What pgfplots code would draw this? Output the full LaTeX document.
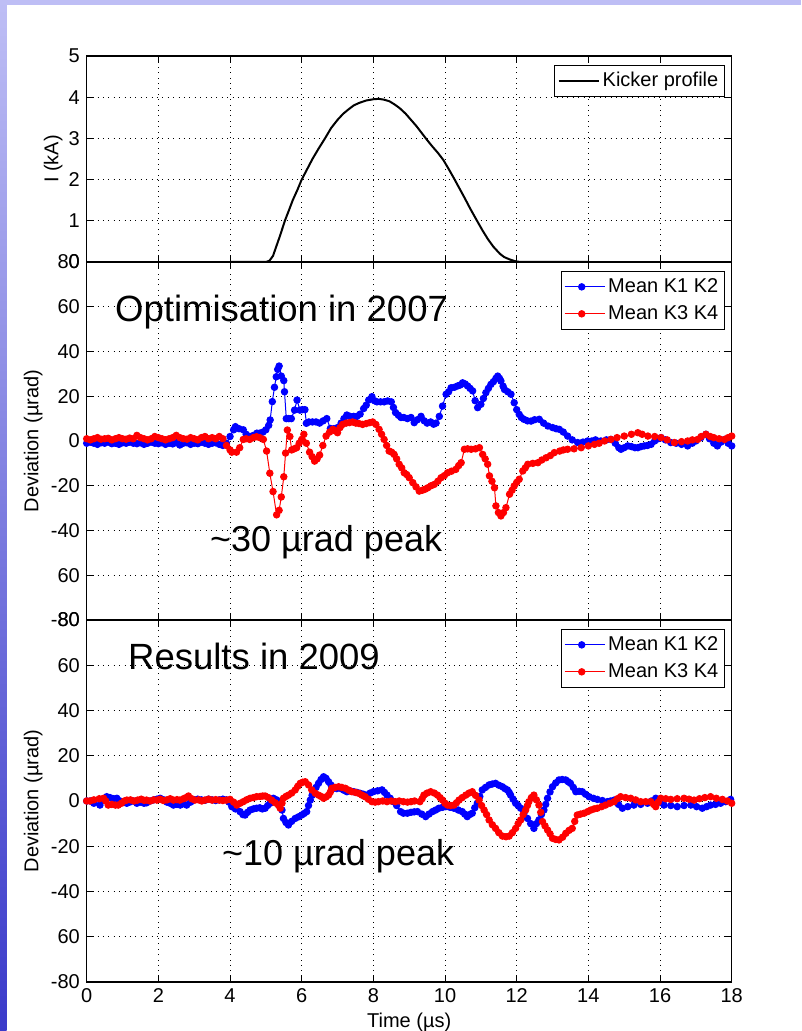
\documentclass[border=0pt]{standalone}
\usepackage{pgfplots}
\pgfplotsset{compat=1.18}
\usepackage{fontspec}
\setmainfont{Liberation Sans}
\definecolor{lav}{RGB}{190,190,245}
\definecolor{deepb}{RGB}{58,58,202}
\begin{document}
\fontsize{20}{23}\selectfont
\begin{tikzpicture}[x=1pt,y=1pt]
\useasboundingbox (0,0) rectangle (801,1031);
\fill[white] (0,0) rectangle (801,1031);
\shade[top color=lav, bottom color=deepb] (0,0) rectangle (6.5,1031);
\fill[lav] (0,1025.5) rectangle (801,1031);
\pgfplotsset{
  mystyle/.style={
    scale only axis, width=645pt, xmin=0, xmax=18,
    xtick={0,2,...,18},
    grid=major,
    major grid style={black, line width=0.7pt, dash pattern=on 0.8pt off 4.6pt},
    axis line style={black, line width=1.2pt},
    tick style={black, line width=1pt},
    major tick length=7pt,
    tick align=inside,
    /pgf/number format/assume math mode=true,
    font=\fontsize{20}{23}\selectfont,
    ticklabel style={font=\fontsize{20}{23}\selectfont},
    legend style={draw=black, line width=0.8pt, fill=white, at={(1,1)}, anchor=north east,
      xshift=-7pt, yshift=-9pt, font=\fontsize{20}{23}\selectfont, row sep=4pt,
      inner xsep=3pt, inner ysep=4pt, nodes={inner sep=3pt}},
    legend cell align=left,
    legend image code/.code={\draw[mark repeat=2, mark phase=2, #1] plot coordinates {(0pt,0pt) (17pt,0pt) (40pt,0pt)};},
  },
  bl/.style={blue, line width=1pt, mark=*, mark size=3.2pt},
  rd/.style={red, line width=1pt, mark=*, mark size=3.2pt},
}
% ---------------- top axis
\begin{axis}[mystyle, at={(86.7pt,769pt)}, anchor=south west, height=206pt,
  ymin=0, ymax=5, ytick={0,1,...,5}, xticklabels={},
  ylabel={I (kA)}, ylabel style={at={(axis description cs:-0.052,0.5)}, anchor=center}]
\addplot[black, line width=2pt] coordinates {
(4,0)(5,0)(5.1,0.03)(5.2,0.15)(5.3,0.4)(5.4,0.65)(5.53,1.0)(5.65,1.27)(5.75,1.5)(5.88,1.75)(6.0,2.0)(6.15,2.25)(6.3,2.5)(6.47,2.75)(6.65,3.0)(6.82,3.25)(7.0,3.45)(7.16,3.6)(7.3,3.7)(7.45,3.8)(7.6,3.86)(7.8,3.92)(8.0,3.95)(8.15,3.96)(8.3,3.94)(8.45,3.9)(8.6,3.82)(8.74,3.73)(8.9,3.6)(9.05,3.45)(9.2,3.3)(9.35,3.13)(9.5,2.96)(9.65,2.8)(9.8,2.65)(9.95,2.48)(10.1,2.26)(10.25,2.03)(10.4,1.79)(10.55,1.55)(10.7,1.3)(10.88,1.02)(11.05,0.76)(11.2,0.55)(11.35,0.37)(11.53,0.2)(11.65,0.12)(11.81,0.06)(11.95,0.02)(12.1,0)(14,0)};
\legend{Kicker profile}
\end{axis}
% ---------------- middle axis
\begin{axis}[mystyle, at={(86.7pt,411pt)}, anchor=south west, height=358pt,
  ymin=-80, ymax=80, ytick={-80,-60,...,80}, yticklabels={-80,60,-40,-20,0,20,40,60,80},
  xticklabels={},
  ylabel={Deviation (µrad)}, ylabel style={at={(axis description cs:-0.083,0.5)}, anchor=center}]
\addplot[bl] coordinates {
(0,-1)(0.1,-0.5)(0.2,-1)(0.3,-1.5)(0.4,-0.8)(0.5,-1)(0.6,-0.5)(0.7,-1.2)(0.8,-1)(0.9,-1.5)(1.0,-0.8)(1.1,-1)(1.2,-0.5)(1.3,-1)(1.4,-1.2)(1.5,-0.8)(1.6,-1.5)(1.7,-1)(1.8,-0.5)(1.9,-1)(2.0,-1.2)(2.1,-0.8)(2.2,-1.5)(2.3,-1)(2.4,-1.3)(2.5,-0.8)(2.6,-1.8)(2.7,-1)(2.8,-0.8)(2.9,-1.5)(3.0,-1)(3.1,-1.2)(3.2,-0.5)(3.3,-1)(3.4,-1.5)(3.5,-1)(3.6,-0.8)(3.7,-1.5)(3.8,-2)(3.9,-1)(4.0,2)(4.1,5)(4.15,6.4)(4.25,5.5)(4.37,5)(4.45,3)(4.55,2)(4.65,2.5)(4.75,3.5)(4.83,3.5)(4.92,4)(5.0,5)(5.08,7)(5.12,9.4)(5.18,17.6)(5.24,24)(5.29,28.7)(5.33,32)(5.37,33.5)(5.43,29)(5.5,27)(5.52,22)(5.57,10)(5.64,10)(5.71,10)(5.8,13.8)(5.87,18.3)(5.95,13.8)(6.02,14)(6.09,14)(6.13,7.9)(6.2,8.5)(6.3,8.5)(6.4,8.5)(6.5,8)(6.6,9)(6.7,10)(6.8,5.6)(6.9,5.5)(7.0,6)(7.1,8)(7.18,10)(7.26,11.6)(7.35,11)(7.45,11)(7.54,11)(7.63,12)(7.73,14.5)(7.8,16)(7.87,18.3)(7.96,19.8)(8.03,18)(8.1,17.5)(8.2,17.5)(8.3,17.5)(8.4,17.9)(8.5,17.5)(8.56,15)(8.62,12.7)(8.7,11.5)(8.77,10.5)(8.85,10.5)(8.95,10)(9.05,10.5)(9.14,8.2)(9.23,9.5)(9.33,11)(9.42,9)(9.5,8)(9.6,8.5)(9.68,7.5)(9.75,8)(9.84,11)(9.93,15.6)(10.03,20.9)(10.1,22)(10.17,23.8)(10.26,24)(10.35,24.6)(10.42,25)(10.49,26)(10.56,25.5)(10.63,24.6)(10.7,23.5)(10.77,22.4)(10.84,18)(10.91,14.9)(11.0,16.4)(11.07,19)(11.14,21.6)(11.21,23.5)(11.28,25.3)(11.35,26.5)(11.42,28)(11.47,29)(11.52,28)(11.56,26.8)(11.62,24.5)(11.66,23)(11.75,22)(11.84,20.9)(11.93,17.1)(12.0,14)(12.07,11.9)(12.13,10.5)(12.2,9.7)(12.3,9)(12.4,8.9)(12.5,9.5)(12.63,9.7)(12.75,8)(12.87,6.7)(13.0,6)(13.1,5.5)(13.19,5.2)(13.3,4)(13.42,2.2)(13.55,0.5)(13.7,-0.7)(13.85,-0.5)(13.98,0)(14.1,0)(14.2,0.5)(14.35,0)(14.5,0.5)(14.63,0.7)(14.75,-1)(14.85,-3)(14.91,-3.7)(15.0,-3)(15.1,-2.2)(15.2,-2.5)(15.3,-3)(15.38,-3)(15.47,-2.5)(15.56,-2.2)(15.65,-2)(15.75,-1.5)(15.85,0)(15.95,1)(16.03,1.5)(16.15,0.5)(16.3,-0.7)(16.45,-1)(16.6,-1.5)(16.77,-2.2)(16.9,-1)(17.0,0)(17.14,1.5)(17.28,3)(17.38,1)(17.5,-1)(17.6,-2.2)(17.7,-0.5)(17.8,0.7)(17.9,-1)(18.0,-2.2)};
\addplot[rd] coordinates {
(0,1)(0.1,0.5)(0.2,1)(0.3,1.5)(0.4,0.8)(0.5,1)(0.6,1.2)(0.7,0.5)(0.8,1)(0.9,1.5)(1.0,1)(1.1,0.8)(1.2,1.3)(1.3,1)(1.4,2.5)(1.5,1.5)(1.6,1)(1.7,0.5)(1.8,1)(1.9,2)(2.0,1.5)(2.1,1)(2.2,0.5)(2.3,1)(2.4,1.5)(2.5,2.5)(2.6,1.5)(2.7,1)(2.8,0.8)(2.9,1.5)(3.0,1)(3.1,0.5)(3.2,1.5)(3.3,2)(3.4,1)(3.5,1.5)(3.6,1)(3.7,2)(3.8,1)(3.9,-2)(4.0,-4)(4.05,-5)(4.18,-5)(4.27,-3)(4.37,0.7)(4.45,1)(4.55,0.7)(4.65,1.5)(4.74,1.9)(4.83,1.5)(4.93,0.7)(5.02,-4.5)(5.11,-14.4)(5.2,-22.6)(5.3,-33)(5.37,-31)(5.43,-25)(5.5,-16)(5.55,-5.4)(5.6,4.9)(5.67,2)(5.72,-4)(5.79,-3.5)(5.86,-3)(5.93,-1)(6.0,0.7)(6.06,3)(6.13,-1)(6.22,-5)(6.29,-7)(6.36,-9)(6.43,-8)(6.5,-6.3)(6.59,-2)(6.68,2.2)(6.78,4)(6.87,5.2)(6.94,4.5)(7.0,3.7)(7.07,6)(7.14,7.4)(7.24,8)(7.33,8.2)(7.42,8.5)(7.51,8)(7.6,7.8)(7.7,7.4)(7.8,7.8)(7.9,8.2)(7.98,8.5)(8.07,7.4)(8.16,5.2)(8.23,3)(8.3,0.7)(8.37,-2)(8.44,-4.5)(8.51,-5)(8.58,-6)(8.65,-8)(8.72,-10.4)(8.79,-12)(8.86,-14.2)(8.93,-15)(9.0,-16.4)(9.1,-18.6)(9.19,-20.5)(9.28,-22.4)(9.37,-22)(9.45,-21.5)(9.52,-20.9)(9.61,-20)(9.7,-19.4)(9.8,-18)(9.89,-16.4)(9.98,-15.5)(10.07,-14.2)(10.18,-13.5)(10.3,-12.7)(10.38,-11)(10.45,-9.7)(10.54,-3.7)(10.63,-3.5)(10.73,-3.7)(10.85,-3.5)(10.96,-3)(11.05,-6)(11.12,-8)(11.19,-10.4)(11.24,-15.6)(11.31,-18)(11.38,-20.9)(11.42,-29)(11.49,-32)(11.56,-33.5)(11.63,-32)(11.7,-29.8)(11.8,-23.8)(11.87,-22)(11.93,-20.1)(12.0,-18.5)(12.07,-17.1)(12.17,-13.4)(12.24,-12)(12.31,-10.4)(12.45,-10)(12.59,-9.7)(12.7,-8.5)(12.82,-7.5)(12.94,-6.5)(13.05,-5.2)(13.2,-4.5)(13.3,-4)(13.42,-3.7)(13.6,-3.5)(13.8,-3)(14.0,-2.2)(14.17,-1.5)(14.3,-1)(14.45,0)(14.63,0.7)(14.8,1.5)(15.0,2.2)(15.2,3)(15.38,3.7)(15.5,3)(15.66,2.2)(15.85,2)(16.03,1.5)(16.2,0.5)(16.4,-0.7)(16.6,-0.3)(16.77,0)(16.9,0.5)(17.05,0.7)(17.15,2)(17.28,3)(17.4,2)(17.5,1.5)(17.65,1)(17.8,0.7)(17.9,1.5)(18.0,2.2)};
\legend{Mean K1 K2, Mean K3 K4}
\end{axis}
% ---------------- bottom axis
\begin{axis}[mystyle, at={(86.7pt,49pt)}, anchor=south west, height=362pt,
  ymin=-80, ymax=80, ytick={-80,-60,...,80}, yticklabels={-80,60,-40,-20,0,20,40,60,80},
  xlabel={Time (µs)}, xlabel style={at={(axis description cs:0.5,0)}, anchor=north, yshift=-24pt},
  ylabel={Deviation (µrad)}, ylabel style={at={(axis description cs:-0.083,0.5)}, anchor=center}]
\addplot[bl] coordinates {
(0,0)(0.1,0)(0.2,-1)(0.37,-1.8)(0.47,0.5)(0.56,1.9)(0.65,1.5)(0.75,1)(0.84,1.2)(0.93,0)(1.02,-0.5)(1.12,-1)(1.2,-0.5)(1.3,0)(1.4,-1)(1.5,-0.5)(1.6,-1)(1.67,-0.8)(1.77,0)(1.87,0.5)(1.96,0.8)(2.05,1.2)(2.15,0.5)(2.24,-0.5)(2.33,-1)(2.42,-1.8)(2.52,-1.5)(2.61,-1.8)(2.7,-1.2)(2.79,-1.8)(2.9,-0.5)(3.0,0.5)(3.1,0.8)(3.2,0.5)(3.3,0.3)(3.4,0.8)(3.5,0.5)(3.6,0.2)(3.7,0.5)(3.8,0.8)(3.9,0.5)(3.97,-0.5)(4.05,-2.5)(4.15,-3.5)(4.28,-4.7)(4.36,-6)(4.42,-6.2)(4.49,-5)(4.56,-4)(4.65,-3.5)(4.74,-3.2)(4.83,-3)(4.9,-3.5)(4.98,-3.2)(5.05,-2)(5.12,-1)(5.21,1.2)(5.3,0.5)(5.4,-0.3)(5.45,-4)(5.49,-7.7)(5.56,-9.5)(5.63,-10.6)(5.72,-9)(5.82,-7.7)(5.91,-7)(6.0,-6.2)(6.07,-5.5)(6.14,-4.7)(6.19,-2)(6.24,0.4)(6.29,2.5)(6.33,4)(6.4,6)(6.47,7.8)(6.54,9.5)(6.61,10.7)(6.68,10)(6.75,8.5)(6.82,7)(6.89,5.6)(6.98,5.5)(7.08,5.6)(7.17,4.8)(7.26,4.1)(7.35,4.5)(7.45,4.1)(7.54,3.8)(7.63,3.4)(7.72,3)(7.82,2.6)(7.91,3.5)(8.0,4.1)(8.12,4.5)(8.24,4.9)(8.31,3.8)(8.38,2.6)(8.47,1.2)(8.56,-0.3)(8.65,-2)(8.76,-4.7)(8.84,-5.4)(8.95,-5.4)(9.05,-5)(9.14,-4.8)(9.23,-4.7)(9.35,-5.8)(9.46,-6.9)(9.55,-5.8)(9.65,-4.7)(9.74,-4)(9.83,-3.2)(9.93,-2.8)(10.02,-2.5)(10.14,-2.8)(10.25,-3.2)(10.37,-4)(10.48,-4.7)(10.55,-5.8)(10.62,-6.9)(10.69,-6)(10.76,-5.4)(10.83,-3)(10.9,-1)(10.97,2)(11.04,4.9)(11.13,6)(11.23,7.1)(11.32,7.5)(11.41,7.8)(11.5,7)(11.6,6.3)(11.67,5.5)(11.74,4.9)(11.79,3.8)(11.83,2.6)(11.9,0.8)(11.97,-1)(12.04,-2)(12.11,-3.2)(12.2,-5.5)(12.3,-7.7)(12.39,-10)(12.48,-12.1)(12.55,-10)(12.62,-8.4)(12.69,-6)(12.76,-4)(12.81,-1.5)(12.86,1.2)(12.93,4)(13.0,6.3)(13.09,8)(13.18,9.3)(13.27,9.5)(13.37,9.3)(13.44,8.5)(13.5,7.8)(13.58,6)(13.65,4.1)(13.74,4.3)(13.83,4.1)(13.92,3)(14.02,1.9)(14.14,1.2)(14.25,0.7)(14.39,0.2)(14.53,-0.3)(14.62,0)(14.72,0.4)(14.84,-1.5)(14.95,-3.2)(15.1,-2.5)(15.27,-1.8)(15.46,-1.5)(15.65,-1)(15.76,0)(15.88,1.2)(16.0,-0.5)(16.11,-1.8)(16.3,-2)(16.48,-2.5)(16.67,-2)(16.86,-1.8)(17.02,-2.5)(17.18,-3.2)(17.3,-2.5)(17.41,-1.8)(17.55,-1.5)(17.69,-1)(17.83,-0.3)(17.97,0.7)};
\addplot[rd] coordinates {
(0,0)(0.09,0)(0.2,0.5)(0.35,1)(0.47,1.2)(0.53,0)(0.6,-1.8)(0.7,-1.5)(0.8,-1.8)(0.88,-1.8)(0.97,-1)(1.05,0)(1.12,0.4)(1.22,0.5)(1.32,0)(1.42,0.4)(1.52,0.8)(1.6,0.3)(1.67,0.4)(1.77,0)(1.87,0.5)(1.96,0.4)(2.05,0.8)(2.14,0.2)(2.24,0.5)(2.33,1)(2.42,0.4)(2.52,0.6)(2.6,0.4)(2.7,1)(2.77,1.5)(2.84,2.2)(2.93,1)(3.02,0.4)(3.12,0.5)(3.21,0)(3.3,0.4)(3.4,0.8)(3.5,0.4)(3.6,0.6)(3.7,0.4)(3.8,0.2)(3.9,0.4)(4.0,0.7)(4.1,-0.5)(4.19,-1.8)(4.28,-1)(4.37,-0.3)(4.46,0.5)(4.56,1.2)(4.65,1.5)(4.74,1.9)(4.84,2)(4.91,2.2)(4.98,2.2)(5.07,1.5)(5.16,0.4)(5.26,-0.8)(5.35,-1.8)(5.4,-3.2)(5.45,-1)(5.49,1.2)(5.56,2)(5.63,2.6)(5.72,3.5)(5.82,4.9)(5.89,6.5)(5.96,7.8)(6.03,8.3)(6.1,8.5)(6.19,7.1)(6.28,4.9)(6.38,3.4)(6.47,2.6)(6.54,2)(6.61,1.2)(6.68,1.8)(6.75,2.6)(6.8,4)(6.84,5.6)(6.93,6)(7.03,6.3)(7.12,6)(7.22,5.6)(7.31,4.8)(7.4,4.1)(7.5,3.8)(7.59,3.4)(7.68,2.6)(7.77,1.9)(7.86,0.8)(7.96,-0.3)(8.05,-0.5)(8.14,-0.3)(8.26,0)(8.38,-0.3)(8.5,0)(8.61,-0.3)(8.72,0)(8.84,-0.3)(8.95,-0.5)(9.05,-0.3)(9.15,0)(9.3,-0.3)(9.36,1)(9.41,2.6)(9.5,3.5)(9.6,4.1)(9.7,3.5)(9.79,2.6)(9.86,1.5)(9.93,0.4)(10.0,-1)(10.07,-1.8)(10.16,-2)(10.25,-1.8)(10.32,-0.8)(10.39,0.4)(10.48,1.5)(10.58,2.6)(10.67,3.5)(10.76,4.1)(10.85,2.5)(10.95,0.4)(11.02,-2)(11.09,-4)(11.16,-6)(11.23,-8.4)(11.32,-10.5)(11.41,-12.1)(11.5,-14)(11.6,-15.5)(11.7,-15.8)(11.79,-15.5)(11.88,-14)(11.97,-12.1)(12.04,-10)(12.11,-8.4)(12.18,-6)(12.25,-4)(12.3,-2)(12.34,-0.3)(12.41,1.5)(12.48,2.6)(12.55,0.5)(12.62,-1.8)(12.67,-5)(12.72,-9.1)(12.79,-11)(12.86,-12.8)(12.93,-14.5)(13.0,-16.5)(13.09,-17)(13.18,-17.2)(13.28,-16)(13.37,-14.3)(13.46,-13)(13.55,-12.1)(13.62,-9)(13.69,-6.2)(13.78,-5.8)(13.88,-5.4)(13.98,-4.7)(14.07,-4)(14.16,-3.5)(14.25,-3.2)(14.37,-2.5)(14.48,-1.8)(14.6,-1)(14.72,-0.3)(14.81,1)(14.9,1.9)(15.04,1.5)(15.18,1.2)(15.32,0.5)(15.46,-0.3)(15.6,-0.3)(15.74,-0.3)(15.82,-1.5)(15.88,-2.5)(15.95,-0.5)(16.02,1.2)(16.16,1)(16.3,0.7)(16.48,1)(16.67,1.2)(16.81,0.8)(16.95,0.4)(17.1,1)(17.25,1.5)(17.41,1.9)(17.57,1.2)(17.74,0.7)(17.88,0)(18.0,-1)};
\legend{Mean K1 K2, Mean K3 K4}
\end{axis}
% ---------------- annotations
\node[anchor=base west, inner sep=0pt, font=\fontsize{36.5}{40}\selectfont] at (115,709.3) {Optimisation in 2007};
\node[anchor=base west, inner sep=0pt, font=\fontsize{36}{40}\selectfont] at (210,479) {\textasciitilde30 µrad peak};
\node[anchor=base west, inner sep=0pt, font=\fontsize{36.5}{40}\selectfont] at (128,361) {Results in 2009};
\node[anchor=base west, inner sep=0pt, font=\fontsize{36}{40}\selectfont] at (222,165) {\textasciitilde10 µrad peak};
\end{tikzpicture}
\end{document}
